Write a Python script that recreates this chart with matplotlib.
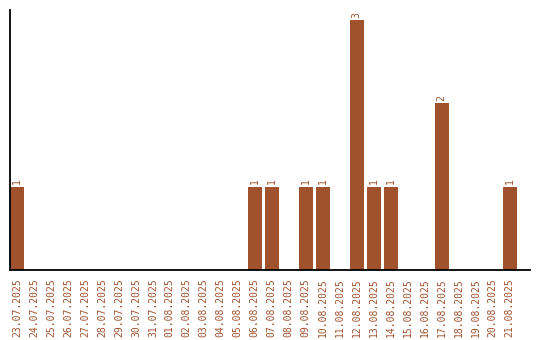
import matplotlib
matplotlib.use("Agg")
import matplotlib.pyplot as plt

dates = ["23.07.2025", "24.07.2025", "25.07.2025", "26.07.2025", "27.07.2025",
         "28.07.2025", "29.07.2025", "30.07.2025", "31.07.2025", "01.08.2025",
         "02.08.2025", "03.08.2025", "04.08.2025", "05.08.2025", "06.08.2025",
         "07.08.2025", "08.08.2025", "09.08.2025", "10.08.2025", "11.08.2025",
         "12.08.2025", "13.08.2025", "14.08.2025", "15.08.2025", "16.08.2025",
         "17.08.2025", "18.08.2025", "19.08.2025", "20.08.2025", "21.08.2025"]
counts = [1, 0, 0, 0, 0, 0, 0, 0, 0, 0,
          0, 0, 0, 0, 1, 1, 0, 1, 1, 0,
          3, 1, 1, 0, 0, 2, 0, 0, 0, 1]

color = "#A0522D"
fig = plt.figure(figsize=(5.4, 3.4), dpi=100)
ax = fig.add_axes([10/540, 70/340, 520/540, 260/340])
x = list(range(len(dates)))
ax.bar(x, counts, width=0.82, color=color)
for xi, v in zip(x, counts):
    if v > 0:
        ax.text(xi, v + 0.03, str(v), rotation=90, ha="center", va="bottom",
                color=color, fontsize=7, family="DejaVu Sans Mono")
ax.set_xlim(-0.41, 30.2)
ax.set_ylim(0, 3.12)
ax.set_xticks(x)
ax.set_xticklabels(dates, rotation=90, color=color, fontsize=7, family="DejaVu Sans Mono")
ax.tick_params(axis="x", length=0, pad=6)
ax.set_yticks([])
ax.spines["top"].set_visible(False)
ax.spines["right"].set_visible(False)
ax.spines["left"].set_linewidth(1.3)
ax.spines["bottom"].set_linewidth(1.3)
fig.savefig("out.png", dpi=100)
